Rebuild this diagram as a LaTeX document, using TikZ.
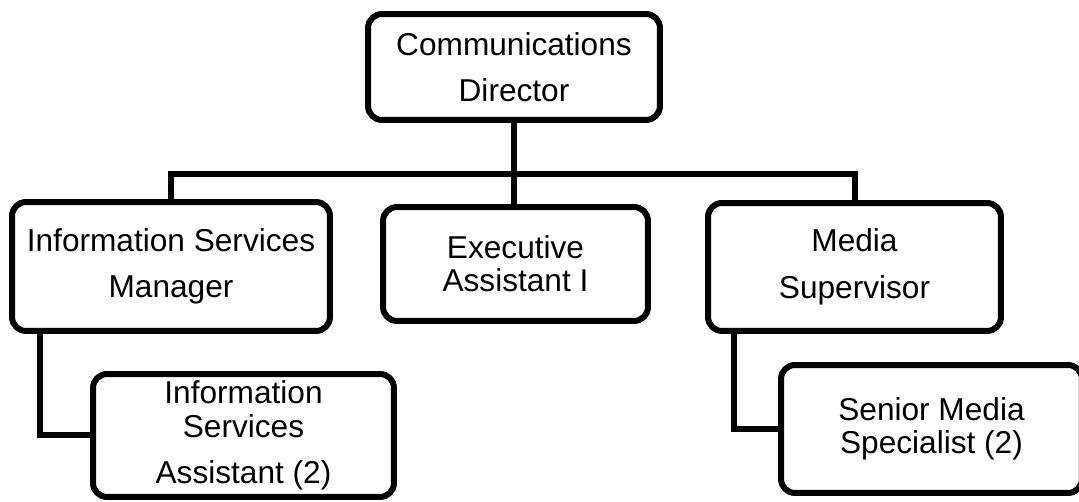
\documentclass[tikz,border=0pt]{standalone}
\usepackage{fontspec}
\setmainfont{Liberation Sans}
\usetikzlibrary{positioning}

\begin{document}
\begin{tikzpicture}[x=0.02cm, y=-0.02cm, font=\fontsize{18}{19}\selectfont,
    orgbox/.style={draw, line width=0.12cm, rounded corners=0.28cm, align=center, inner sep=0pt},
    link/.style={line width=0.12cm}]
      \useasboundingbox (0,0) rectangle (1079,502);
      \node[orgbox, minimum width=5.84cm, minimum height=2.12cm] (dir) at (514,67) {Communications\\[7.5pt]Director};
      \node[orgbox, minimum width=6.36cm, minimum height=2.58cm] (ism) at (171,266.5) {Information Services\\[7.5pt]Manager};
      \node[orgbox, minimum width=5.30cm, minimum height=2.28cm] (exa) at (515.5,264) {Executive\\Assistant I};
      \node[orgbox, minimum width=5.86cm, minimum height=2.56cm] (msup) at (854.5,267) {Media\\[7.5pt]Supervisor};
      \node[orgbox, minimum width=6.02cm, minimum height=2.46cm] (isa) at (243.5,435.5) {Information\\Services\\[7.5pt]Assistant (2)};
      \node[orgbox, minimum width=6.02cm, minimum height=2.56cm] (sms) at (931.5,429) {Senior Media\\Specialist (2)};
      \coordinate (bus) at (514,174);
      \draw[link] (ism.north) |- (bus) -| (msup.north);
      \draw[link] (dir.south) -- (dir.south |- exa.north);
      \draw[link] (isa.west) -| ([xshift=0.62cm]ism.south west);
      \draw[link] (sms.west) -| ([xshift=0.58cm]msup.south west);
    \end{tikzpicture}
\end{document}
